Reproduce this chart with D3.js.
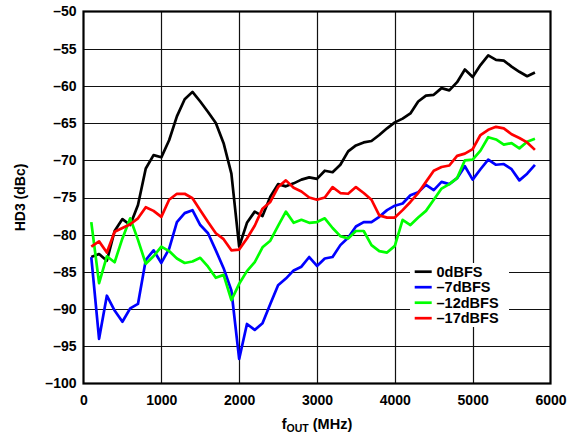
<!DOCTYPE html>
<html>
<head>
<meta charset="utf-8">
<script src="https://cdn.jsdelivr.net/npm/d3@7"></script>
<style>
  html, body { margin: 0; padding: 0; background: #fff; }
  svg { display: block; font-family: Arial, "Liberation Sans", sans-serif; }
</style>
</head>
<body>
<svg id="chart" width="587" height="434"></svg>
<script>
// Output frequency sweep, MHz (100 MHz steps)
const freqs = d3.range(100, 5801, 100);

// HD3 in dBc for each output level
const hd3_0dBFS = [
  -83.0, -82.6, -83.5, -79.5, -77.9, -78.7, -76.0, -71.1, -69.3, -69.6,
  -67.3, -64.1, -61.8, -60.8, -62.1, -63.5, -65.0, -67.7, -71.8, -81.6,
  -78.4, -76.9, -77.5, -74.9, -73.2, -73.5, -73.1, -72.6, -72.3, -72.5,
  -71.4, -71.6, -70.6, -68.8, -68.0, -67.6, -67.4, -66.6, -65.7, -64.9,
  -64.4, -63.7, -62.1, -61.3, -61.2, -60.3, -60.6, -59.5, -57.8, -58.8,
  -57.2, -55.9, -56.5, -56.6, -57.4, -58.1, -58.7, -58.2
];
const hd3_m7dBFS = [
  -83.0, -94.0, -88.2, -90.2, -91.7, -89.9, -89.3, -83.4, -82.1, -83.8,
  -81.9, -78.3, -77.1, -76.7, -78.7, -79.8, -82.1, -84.5, -87.5, -96.7,
  -92.0, -92.8, -91.9, -89.3, -86.8, -85.9, -84.8, -84.3, -83.0, -84.2,
  -83.2, -83.0, -81.4, -80.4, -78.9, -78.3, -78.3, -77.6, -76.7, -76.1,
  -75.8, -74.7, -74.3, -73.3, -74.0, -72.9, -73.2, -72.4, -70.8, -72.6,
  -71.2, -69.9, -70.6, -70.5, -71.2, -72.7, -71.8, -70.6
];
const hd3_m12dBFS = [
  -78.3, -86.5, -82.9, -83.7, -80.5, -77.8, -80.7, -83.9, -82.9, -81.6,
  -82.2, -83.2, -83.8, -83.6, -83.1, -84.3, -85.8, -85.4, -88.8, -86.6,
  -84.9, -83.7, -81.7, -80.8, -78.8, -76.9, -78.4, -78.0, -78.4, -78.3,
  -77.8, -79.1, -80.2, -80.5, -79.5, -79.5, -81.4, -82.2, -82.4, -81.5,
  -78.0, -78.7, -77.7, -76.8, -75.3, -73.8, -73.2, -72.4, -70.0, -69.9,
  -68.7, -66.9, -67.2, -67.9, -67.7, -68.4, -67.5, -67.1
];
const hd3_m17dBFS = [
  -81.6, -80.9, -82.4, -79.6, -79.1, -78.6, -77.8, -76.3, -76.8, -77.6,
  -75.3, -74.5, -74.5, -75.1, -76.7, -78.3, -79.8, -80.6, -82.1, -82.0,
  -80.5, -78.8, -76.5, -75.6, -73.6, -72.7, -73.7, -74.2, -75.0, -75.3,
  -75.0, -73.6, -74.4, -74.5, -73.6, -74.4, -75.3, -77.4, -77.7, -77.7,
  -76.7, -75.6, -74.4, -72.9, -71.4, -70.9, -70.7, -69.4, -69.1, -68.5,
  -66.6, -65.9, -65.5, -65.7, -66.5, -67.0, -67.6, -68.6
];

const seriesNames = ["0dBFS", "–7dBFS", "–12dBFS", "–17dBFS"];
const seriesColors = ["#000000", "#0000ff", "#00ff00", "#ff0000"];
const seriesValues = [hd3_0dBFS, hd3_m7dBFS, hd3_m12dBFS, hd3_m17dBFS];

const xTicks = [0, 1000, 2000, 3000, 4000, 5000, 6000];
const yTicks = [-100, -95, -90, -85, -80, -75, -70, -65, -60, -55, -50];

const svg = d3.select("#chart");
const plotL = 83.5, plotR = 550.5, plotT = 11.5, plotB = 383.5;

const x = d3.scaleLinear().domain([0, 6000]).range([plotL, plotR]);
const y = d3.scaleLinear().domain([-100, -50]).range([plotB, plotT]);

const fmt = v => (v < 0 ? "–" + Math.abs(v) : String(v));

// grid
const grid = svg.append("g").attr("stroke", "#111").attr("stroke-width", 1.2);
grid.selectAll("line.gx").data(xTicks.slice(1, -1)).join("line")
  .attr("x1", d => Math.round(x(d)) + 0.5).attr("x2", d => Math.round(x(d)) + 0.5)
  .attr("y1", plotT).attr("y2", plotB);
grid.selectAll("line.gy").data(yTicks.slice(1, -1)).join("line")
  .attr("y1", d => Math.round(y(d)) + 0.5).attr("y2", d => Math.round(y(d)) + 0.5)
  .attr("x1", plotL).attr("x2", plotR);

// tick labels via d3 axes (frame drawn separately)
const yAxis = svg.append("g")
  .attr("transform", `translate(${plotL},0)`)
  .call(d3.axisLeft(y).tickValues(yTicks).tickFormat(fmt).tickSize(0).tickPadding(7));
const xAxis = svg.append("g")
  .attr("transform", `translate(0,${plotB})`)
  .call(d3.axisBottom(x).tickValues(xTicks).tickFormat(fmt).tickSize(0).tickPadding(12));
[xAxis, yAxis].forEach(a => {
  a.select(".domain").remove();
  a.selectAll("text")
    .attr("font-family", "Arial, 'Liberation Sans', sans-serif")
    .attr("font-size", 14).attr("font-weight", "bold").attr("fill", "#000");
});

// curves
const line = d3.line().x((d, i) => x(freqs[i])).y(d => y(d));
const plot = svg.append("g");
seriesValues.forEach((vals, k) => {
  plot.append("path").datum(vals)
    .attr("fill", "none")
    .attr("stroke", seriesColors[k])
    .attr("stroke-width", 2.7)
    .attr("stroke-linejoin", "round")
    .attr("d", line);
});

// plot frame
svg.append("rect")
  .attr("x", plotL).attr("y", plotT)
  .attr("width", plotR - plotL).attr("height", plotB - plotT)
  .attr("fill", "none").attr("stroke", "#000").attr("stroke-width", 2.2);

// legend
const lg = svg.append("g").attr("transform", "translate(410,263)");
lg.append("rect").attr("width", 99).attr("height", 64).attr("fill", "#fff");
seriesNames.forEach((name, k) => {
  const yy = 8.7 + k * 15.5;
  lg.append("line")
    .attr("x1", 4.7).attr("x2", 21.7).attr("y1", yy).attr("y2", yy)
    .attr("stroke", seriesColors[k]).attr("stroke-width", 2.7);
  lg.append("text")
    .attr("x", 26.5).attr("y", yy + 5.2)
    .attr("font-size", 14.5).attr("font-weight", "bold").attr("fill", "#000")
    .text(name);
});

// axis titles
svg.append("text")
  .attr("transform", `translate(25,${(plotT + plotB) / 2}) rotate(-90)`)
  .attr("text-anchor", "middle")
  .attr("font-size", 14).attr("font-weight", "bold")
  .text("HD3 (dBc)");

const xt = svg.append("text")
  .attr("x", 317).attr("y", 428.5)
  .attr("text-anchor", "middle")
  .attr("font-size", 14.5).attr("font-weight", "bold");
xt.append("tspan").text("f");
xt.append("tspan").attr("font-size", 10.5).attr("dy", 3).text("OUT");
xt.append("tspan").attr("dy", -3).text(" (MHz)");
</script>
</body>
</html>
